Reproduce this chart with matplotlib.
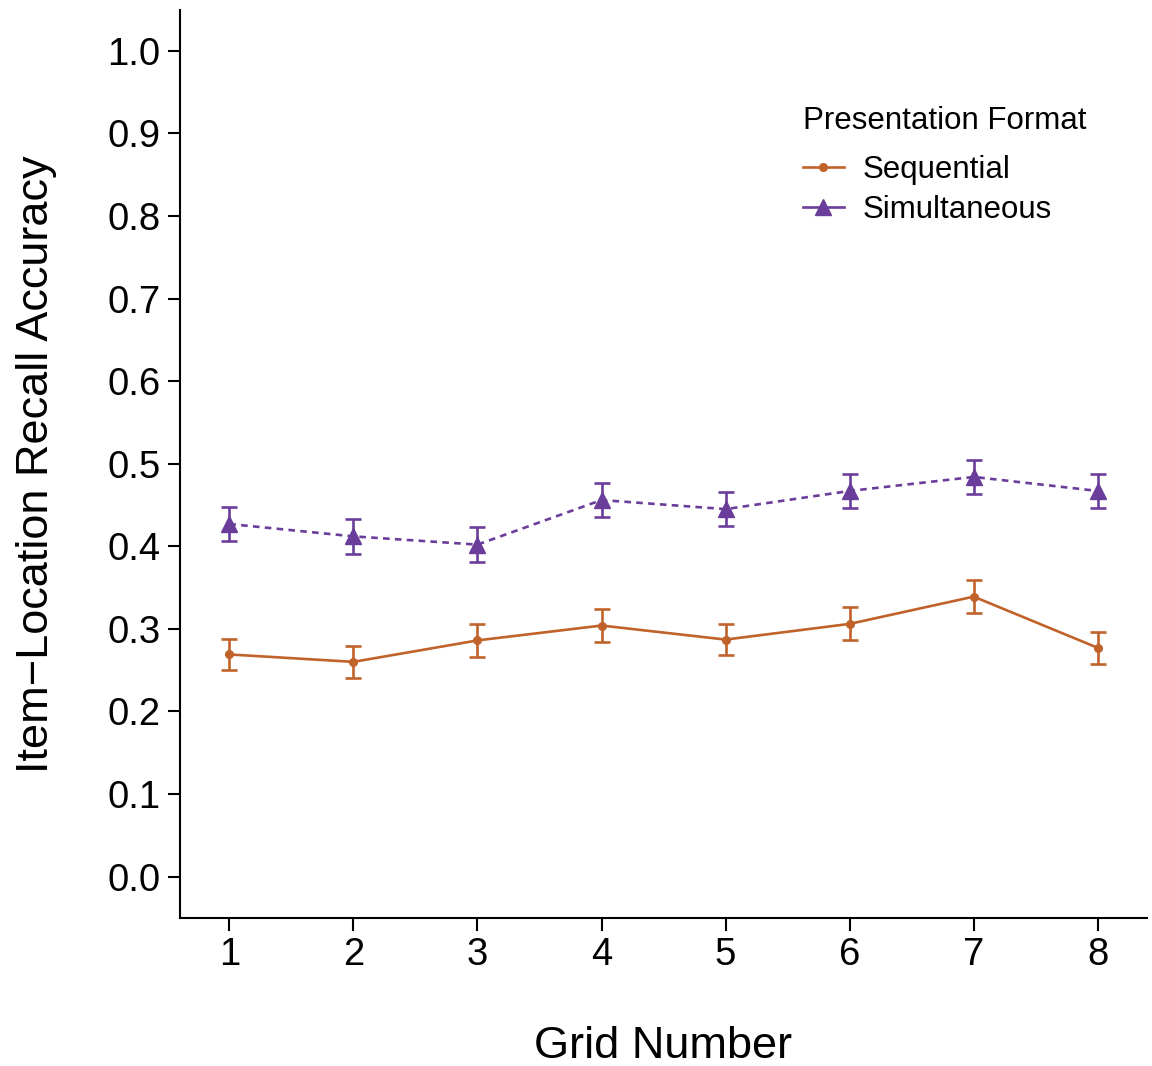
import matplotlib
matplotlib.use("Agg")
import matplotlib.pyplot as plt
from matplotlib.lines import Line2D

plt.rcParams["font.family"] = ["Liberation Sans", "DejaVu Sans"]

grid = [1, 2, 3, 4, 5, 6, 7, 8]
seq_mean = [0.269, 0.260, 0.286, 0.304, 0.287, 0.306, 0.339, 0.277]
seq_se = [0.019, 0.019, 0.020, 0.020, 0.019, 0.020, 0.020, 0.019]
sim_mean = [0.427, 0.412, 0.402, 0.456, 0.445, 0.467, 0.484, 0.467]
sim_se = [0.021, 0.021, 0.021, 0.021, 0.021, 0.021, 0.021, 0.021]

ORANGE = "#c0622a"
PURPLE = "#6a3d9a"

fig = plt.figure(figsize=(11.52, 10.66), dpi=100)
ax = fig.add_axes([0.156, 0.139, 0.84, 0.852])

ax.errorbar(grid, seq_mean, yerr=seq_se, color=ORANGE, lw=1.9, marker="o",
            ms=5.5, capsize=5.5, capthick=1.9, elinewidth=1.9)
ax.errorbar(grid, sim_mean, yerr=sim_se, color=PURPLE, lw=1.9, ls=(0, (2.5, 2)),
            marker="^", ms=12, capsize=5.5, capthick=1.9, elinewidth=1.9)

ax.set_xlim(0.6, 8.4)
ax.set_ylim(-0.05, 1.05)
ax.set_xticks(grid)
ax.set_yticks([i / 10 for i in range(11)])
ax.set_yticklabels([f"{i / 10:.1f}" for i in range(11)])
ax.tick_params(labelsize=27.5, length=9, width=1.5, pad=5)

for s in ["top", "right"]:
    ax.spines[s].set_visible(False)
for s in ["left", "bottom"]:
    ax.spines[s].set_linewidth(1.5)

ax.set_xlabel("Grid Number", fontsize=32.5, labelpad=38)
ax.set_ylabel("Item\u2212Location Recall Accuracy", fontsize=32.5, labelpad=36)

# legend keys are drawn solid in the original
handles = [Line2D([], [], color=ORANGE, lw=1.9, marker="o", ms=5.5),
           Line2D([], [], color=PURPLE, lw=1.9, marker="^", ms=12)]
leg = ax.legend(handles, ["Sequential", "Simultaneous"],
                title="Presentation Format", frameon=False,
                fontsize=22.5, title_fontsize=22.5, loc="upper left",
                bbox_to_anchor=(0.615, 0.925), handlelength=1.3,
                handletextpad=0.6, labelspacing=0.3, alignment="left")
leg._legend_box.sep = 14

fig.savefig("out.png", dpi=100)
